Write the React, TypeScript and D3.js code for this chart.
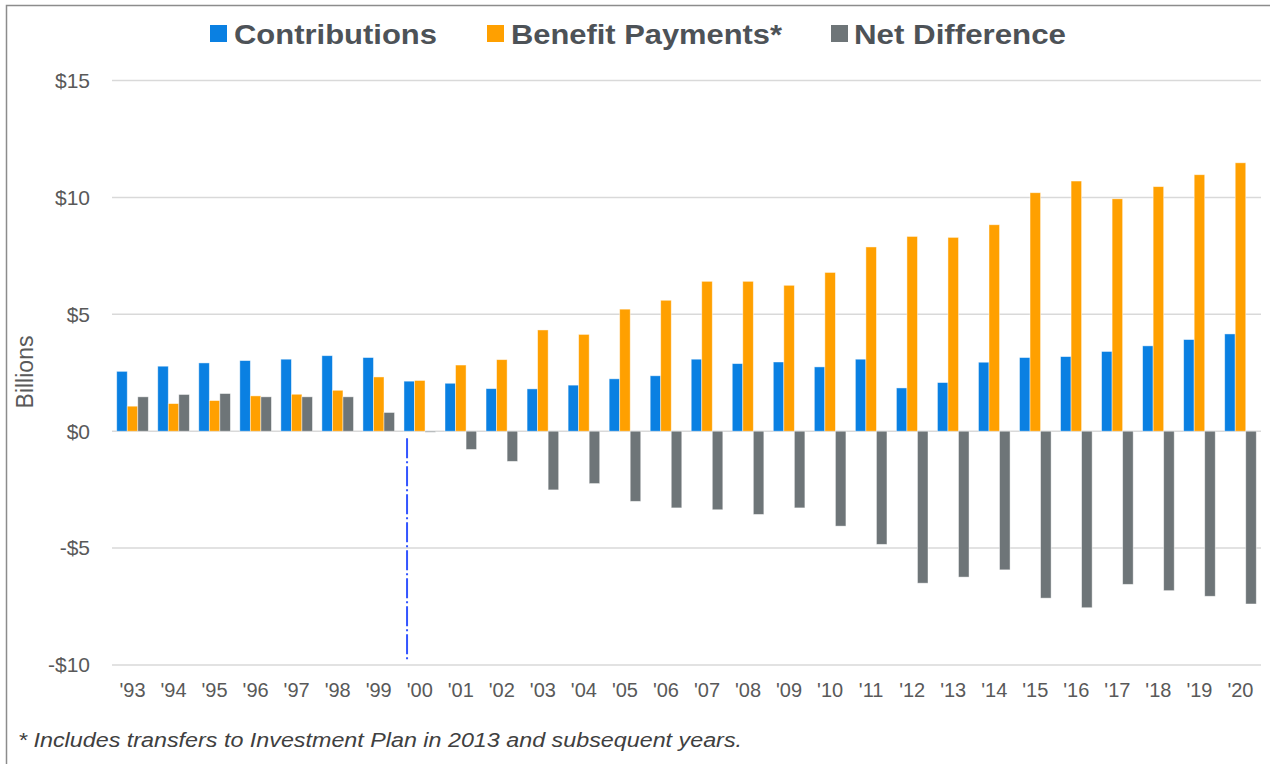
import React from "react";
import * as d3 from "d3";

const years = ["'93", "'94", "'95", "'96", "'97", "'98", "'99", "'00", "'01", "'02", "'03", "'04", "'05", "'06",
  "'07", "'08", "'09", "'10", "'11", "'12", "'13", "'14", "'15", "'16", "'17", "'18", "'19", "'20"];

const contributions = [2.56, 2.78, 2.92, 3.02, 3.08, 3.23, 3.15, 2.14, 2.05, 1.82, 1.81, 1.97, 2.24, 2.37,
  3.08, 2.89, 2.96, 2.75, 3.08, 1.85, 2.08, 2.95, 3.15, 3.19, 3.41, 3.65, 3.92, 4.16];

const benefits = [1.07, 1.18, 1.31, 1.51, 1.58, 1.75, 2.32, 2.17, 2.83, 3.06, 4.33, 4.14, 5.22, 5.6,
  6.41, 6.41, 6.24, 6.79, 7.88, 8.33, 8.29, 8.83, 10.2, 10.7, 9.94, 10.46, 10.97, 11.48];

const netDiff = [1.47, 1.57, 1.61, 1.47, 1.47, 1.47, 0.8, -0.04, -0.78, -1.29, -2.51, -2.24, -3.0, -3.28,
  -3.36, -3.56, -3.28, -4.06, -4.84, -6.5, -6.24, -5.93, -7.14, -7.55, -6.55, -6.82, -7.06, -7.39];

const yTicks = [15, 10, 5, 0, -5, -10];
const seriesNames = ["Contributions", "Benefit Payments*", "Net Difference"];
const seriesColors = ["#0A80E2", "#FFA000", "#6E7578"];
const footnote = "* Includes transfers to Investment Plan in 2013 and subsequent years.";

const W = 1270;
const H = 764;

const App: React.FC = () => {
  const x = d3.scaleBand<string>().domain(years).range([112, 1261]).padding(0);
  const inner = d3
    .scaleBand<string>()
    .domain(["c", "b", "n"])
    .range([x.bandwidth() * 0.115, x.bandwidth() * 0.885])
    .padding(0);
  const y = d3.scaleLinear().domain([-10, 15]).range([665, 80.5]);

  const series = [contributions, benefits, netDiff];
  const keys = ["c", "b", "n"];
  const tickFmt = (v: number) => (v < 0 ? `-$${Math.abs(v)}` : `$${v}`);

  // dash-dot marker between '99 and '00
  const markX = (x("'00") || 0) + x.step() * 0.19;

  const legendPos = [
    { sq: 210, tx: 234, w: 203 },
    { sq: 487, tx: 511, w: 271 },
    { sq: 831, tx: 854, w: 212 },
  ];

  return (
    <svg width={W} height={H} style={{ position: "absolute", left: 0, top: 0, background: "#fff" }}
      fontFamily="Arial, 'Liberation Sans', sans-serif">
      <rect x={6.5} y={5.5} width={W + 10} height={H + 10} fill="#fff" stroke="#8c8c8c" strokeWidth={1.5} />

      {/* legend */}
      {seriesNames.map((name, i) => (
        <g key={name}>
          <rect x={legendPos[i].sq} y={25} width={17} height={17} fill={seriesColors[i]} />
          <text x={legendPos[i].tx} y={34} dy="0.36em" fontSize={28} fontWeight="bold" fill="#4D5257"
            textLength={legendPos[i].w} lengthAdjust="spacingAndGlyphs">
            {name}
          </text>
        </g>
      ))}

      {/* grid */}
      {yTicks.map((t) => (
        <g key={t}>
          <line x1={112} x2={1261} y1={y(t)} y2={y(t)} stroke="#d9d9d9" strokeWidth={1.5} />
          <text x={90} y={y(t)} dy="0.35em" textAnchor="end" fontSize={21} fill="#595959">
            {tickFmt(t)}
          </text>
        </g>
      ))}

      <text transform={`translate(25,${372}) rotate(-90)`} textAnchor="middle" dy="0.35em" fontSize={23} fill="#595959">
        Billions
      </text>

      {/* bars */}
      {years.map((yr, i) => (
        <g key={yr} transform={`translate(${x(yr)},0)`}>
          {series.map((s, j) => {
            const v = s[i];
            return (
              <rect
                key={j}
                x={inner(keys[j])}
                width={inner.bandwidth()}
                y={Math.min(y(v), y(0))}
                height={Math.max(Math.abs(y(v) - y(0)), 1)}
                fill={seriesColors[j]}
                stroke="#ffffff"
                strokeOpacity={0.55}
                strokeWidth={0.8}
              />
            );
          })}
          <text x={x.bandwidth() / 2} y={690} dy="0.35em" textAnchor="middle" fontSize={20} fill="#595959">
            {yr}
          </text>
        </g>
      ))}

      <line x1={markX} x2={markX} y1={y(0) + 7} y2={y(-10) - 3} stroke="#3355FF" strokeWidth={2}
        strokeDasharray="20 3 2 3" />

      <text x={18} y={740} dy="0.35em" fontSize={20} fontStyle="italic" fill="#404040" textLength={724}
        lengthAdjust="spacingAndGlyphs">
        {footnote}
      </text>
    </svg>
  );
};

export default App;
